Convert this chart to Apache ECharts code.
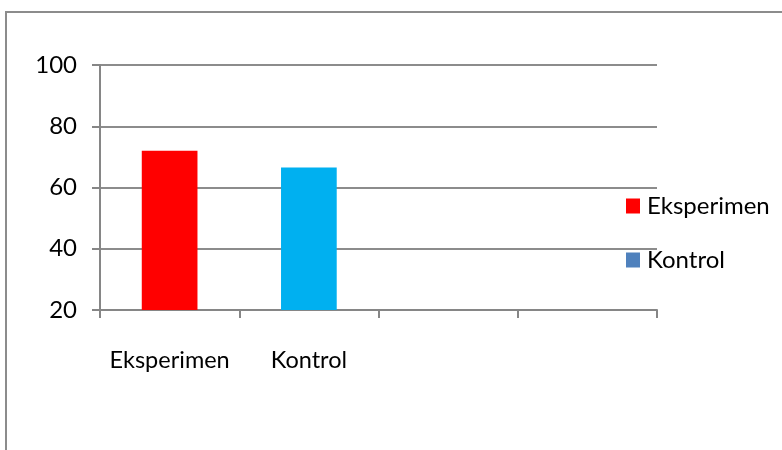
<!DOCTYPE html>
<html>
<head>
<meta charset="utf-8">
<script src="https://cdn.jsdelivr.net/npm/echarts@6/dist/echarts.min.js"></script>
<style>html,body{margin:0;padding:0;background:#fff;}#c{width:782px;height:450px;}</style>
</head>
<body>
<div id="c"></div>
<script>
var categories = ['Eksperimen', 'Kontrol', '', ''];
var seriesNames = ['Eksperimen', 'Kontrol'];
var eksperimenValues = [72, '-', '-', '-'];
var kontrolValues = ['-', 66.5, '-', '-'];
var yMin = 20, yMax = 100, yInterval = 20;

var chart = echarts.init(document.getElementById('c'));
var font = 'Lato, "Open Sans", sans-serif';
chart.setOption({
  animation: false,
  backgroundColor: '#fff',
  graphic: [{
    type: 'polyline',
    shape: { points: [[6, 452], [6, 12], [784, 12]] },
    style: { stroke: '#8c8c8c', lineWidth: 2, fill: null }
  }],
  grid: { left: 100, right: 125, top: 65, bottom: 140, containLabel: false },
  legend: {
    orient: 'vertical',
    left: 621,
    top: 189,
    itemWidth: 14,
    itemHeight: 15,
    itemGap: 30,
    icon: 'rect',
    textStyle: { fontFamily: font, fontSize: 24, color: '#000', lineHeight: 24, padding: [0, 0, 0, 2] },
    data: seriesNames
  },
  xAxis: {
    type: 'category',
    data: categories,
    axisLine: { lineStyle: { color: '#868686', width: 2 } },
    axisTick: { show: true, length: 8, lineStyle: { color: '#868686', width: 2 }, alignWithLabel: false },
    axisLabel: { fontFamily: font, fontSize: 23.5, color: '#000', margin: 38, interval: 0 },
    splitLine: { show: false }
  },
  yAxis: {
    type: 'value',
    min: yMin, max: yMax, interval: yInterval,
    axisLine: { show: true, lineStyle: { color: '#868686', width: 2 } },
    axisTick: { show: true, length: 8, lineStyle: { color: '#868686', width: 2 } },
    axisLabel: { fontFamily: font, fontSize: 24, color: '#000', margin: 23 },
    splitLine: { show: true, lineStyle: { color: '#8c8c8c', width: 2 } }
  },
  series: [
    {
      name: seriesNames[0],
      type: 'bar',
      stack: 'all',
      barWidth: '40%',
      itemStyle: { color: '#ff0000' },
      data: eksperimenValues
    },
    {
      name: seriesNames[1],
      type: 'bar',
      stack: 'all',
      barWidth: '40%',
      itemStyle: { color: '#4f81bd' },
      data: kontrolValues.map(function (v) { return v === '-' ? v : { value: v, itemStyle: { color: '#00b0f0' } }; })
    }
  ]
});
</script>
</body>
</html>
